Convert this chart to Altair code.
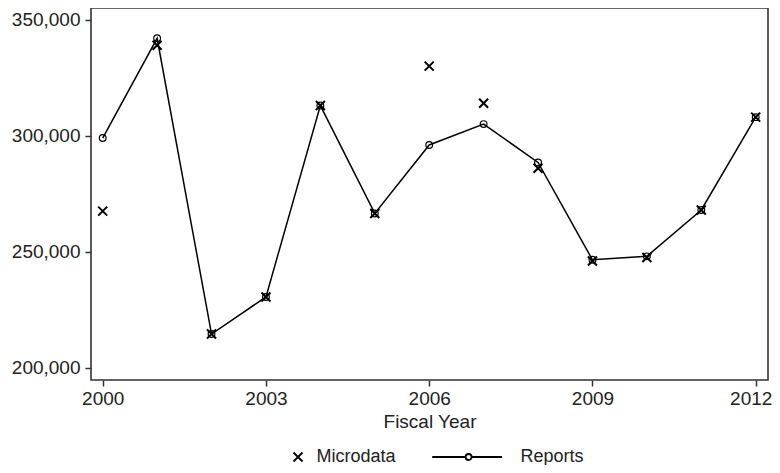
import altair as alt
import pandas as pd

years = list(range(2000, 2013))
reports = [299000, 342000, 214500, 230500, 313000, 266500, 296000, 305000, 288500, 246500, 248000, 268000, 308000]
microdata = [267500, 339000, 214500, 230500, 313000, 266500, 330000, 314000, 286000, 246000, 247500, 268000, 308000]
x_ticks = [2000, 2003, 2006, 2009, 2012]
y_ticks = [200000, 250000, 300000, 350000]
series = ["Microdata", "Reports"]

df_r = pd.DataFrame({"year": years, "value": reports, "series": "Reports"})
df_m = pd.DataFrame({"year": years, "value": microdata, "series": "Microdata"})

X_PATH = "M-1,-1L1,1M-1,1L1,-1"
R_PATH = ("M-15.5,0L-8.1,0M-6.75,0L0,0"
          "M-8.09,0A0.67,0.67 0 1,0 -6.75,0A0.67,0.67 0 1,0 -8.09,0")

FONT = "Liberation Sans"
TXT = "#222222"

xenc = alt.X(
    "year:Q",
    scale=alt.Scale(domain=[1999.785, 2012.226], nice=False, zero=False),
    axis=alt.Axis(values=x_ticks, format="d", title="Fiscal Year", domain=False, grid=False,
                  tickSize=6, tickColor="#333333", tickWidth=1.5,
                  labelFont=FONT, labelFontSize=19, labelColor=TXT, labelPadding=3,
                  labelOffset={"condition": {"test": "datum.value == 2012", "value": -5}, "value": 0},
                  titleFont=FONT, titleFontSize=19, titleFontWeight="normal", titleColor=TXT,
                  titlePadding=4),
)
yenc = alt.Y(
    "value:Q",
    scale=alt.Scale(domain=[194700, 355050], nice=False, zero=False),
    axis=alt.Axis(values=y_ticks, format=",d", title=None, domain=False, grid=False,
                  tickSize=6, tickColor="#333333", tickWidth=1.5,
                  labelFont=FONT, labelFontSize=19, labelColor=TXT, labelPadding=5),
)

line = alt.Chart(df_r).mark_line(color="black", strokeWidth=1.5).encode(x=xenc, y=yenc)
circles = alt.Chart(df_r).mark_point(shape="circle", filled=False, color="black",
                                     size=45, strokeWidth=1.2, opacity=1).encode(x=xenc, y=yenc)
crosses = alt.Chart(df_m).mark_point(filled=False, color="black", size=81,
                                     strokeWidth=2, opacity=1).encode(
    x=xenc, y=yenc,
    shape=alt.Shape("series:N", scale=alt.Scale(domain=series, range=[X_PATH, R_PATH]),
                    legend=alt.Legend(title=None, orient="none", legendX=198, legendY=440,
                                      direction="horizontal", padding=0,
                                      labelFont=FONT, labelFontSize=18, labelColor=TXT,
                                      labelOffset=9.5, columnPadding=32,
                                      symbolSize=81, symbolStrokeWidth=1.8,
                                      symbolStrokeColor="black", symbolFillColor="transparent")),
)

chart = alt.layer(line, circles, crosses).properties(
    width=677, height=372,
    autosize=alt.AutoSizeParams(type="none"),
    padding={"left": 83, "top": 0, "right": 4, "bottom": 85},
).configure(background="white").configure_view(stroke="#333333", strokeWidth=1.6)

chart.save("out.html", embed_options={"renderer": "svg", "actions": False})
